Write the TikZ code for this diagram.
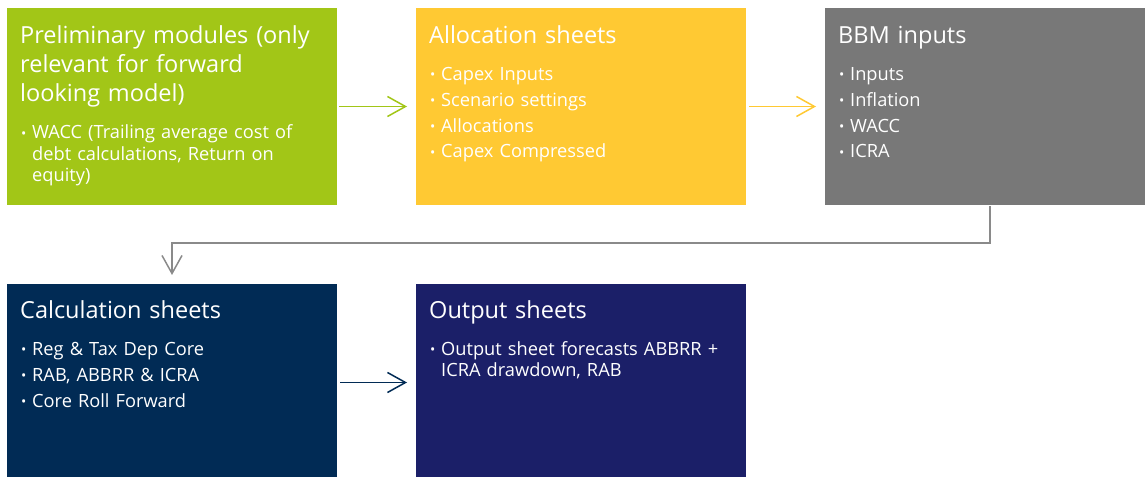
\documentclass[tikz,border=0pt]{standalone}
\usepackage{fontspec}
\setmainfont{Open Sans}
\usetikzlibrary{arrows.meta,calc}
\definecolor{cgreen}{HTML}{A2C617}
\definecolor{cyellow}{HTML}{FFC933}
\definecolor{cgray}{HTML}{787878}
\definecolor{cnavy}{HTML}{012B55}
\definecolor{cblue}{HTML}{1B1F68}
\definecolor{cline}{HTML}{8A8A8A}
\newcommand{\bul}{\makebox[11bp][l]{\raisebox{0.3bp}{\fontsize{14}{14}\selectfont •}}}
\newcommand{\ind}{\hspace*{11bp}}
\begin{document}
\begin{tikzpicture}[x=1bp,y=1bp,
  box/.style={rectangle, minimum width=330bp, minimum height=197bp, inner sep=0pt, outer sep=0pt, anchor=north west, draw=none},
  ttl/.style={anchor=north west, inner sep=0pt, text=white, align=left, text width=318bp, font=\fontsize{23.6}{29.3}\selectfont},
  bdy/.style={anchor=north west, inner sep=0pt, text=white, align=left, text width=318bp, font=\fontsize{18.3}{21.7}\selectfont},
  arr/.style={line width=1.5bp, -{Straight Barb[length=18bp,width=20bp]}}]
\useasboundingbox (0,0) rectangle (1145,-477);
\clip (0,0) rectangle (1145,-477);
\node[box, fill=cgreen] (pre) at (7,-8) {};
\node[box, fill=cyellow] (alloc) at (416,-8) {};
\node[box, fill=cgray] (bbm) at (825,-8) {};
\node[box, fill=cnavy] (calc) at (7,-284) {};
\node[box, fill=cblue] (out) at (416,-284) {};
% texts
\node[ttl] (preT) at ([shift={(13,-15)}]pre.north west) {\rule{0pt}{20bp}Preliminary modules (only\\relevant for forward\\looking model)};
\node[bdy] (preB) at ([shift={(14,-114.3)}]pre.north west) {\rule{0pt}{16bp}\bul WACC (Trailing average cost of\\\ind debt calculations, Return on\\\ind equity)};
\node[ttl] (allocT) at ([shift={(13,-15)}]alloc.north west) {\rule{0pt}{20bp}Allocation sheets};
\node[bdy] (allocB) at ([shift={(14,-56)}]alloc.north west) {\rule{0pt}{16bp}\bul Capex Inputs\\[4.3bp]\bul Scenario settings\\[4.3bp]\bul Allocations\\[4.3bp]\bul Capex Compressed};
\node[ttl] (bbmT) at ([shift={(13,-15)}]bbm.north west) {\rule{0pt}{20bp}BBM inputs};
\node[bdy] (bbmB) at ([shift={(14,-56)}]bbm.north west) {\rule{0pt}{16bp}\bul Inputs\\[4.3bp]\bul Inflation\\[4.3bp]\bul WACC\\[4.3bp]\bul ICRA};
\node[ttl] (calcT) at ([shift={(13,-14)}]calc.north west) {\rule{0pt}{20bp}Calculation sheets};
\node[bdy] (calcB) at ([shift={(14,-55)}]calc.north west) {\rule{0pt}{16bp}\bul Reg \& Tax Dep Core\\[4.3bp]\bul RAB, ABBRR \& ICRA\\[4.3bp]\bul Core Roll Forward};
\node[ttl] (outT) at ([shift={(13,-14)}]out.north west) {\rule{0pt}{20bp}Output sheets};
\node[bdy] (outB) at ([shift={(14,-55)}]out.north west) {\rule{0pt}{16bp}\bul Output sheet forecasts ABBRR +\\\ind ICRA drawdown, RAB};
% connectors
\draw[arr, draw=cgreen] ([xshift=2bp]pre.east) -- ([xshift=-9bp]alloc.west);
\draw[arr, draw=cyellow] ([xshift=3bp]alloc.east) -- ([xshift=-9bp]bbm.west);
\draw[arr, draw=cnavy] ([xshift=3bp]calc.east) -- ([xshift=-9bp]out.west);
\draw[arr, draw=cline, shorten <=1bp, shorten >=9bp] (bbm.south) -- ++(0,-38) -| (calc.north);
\end{tikzpicture}
\end{document}
